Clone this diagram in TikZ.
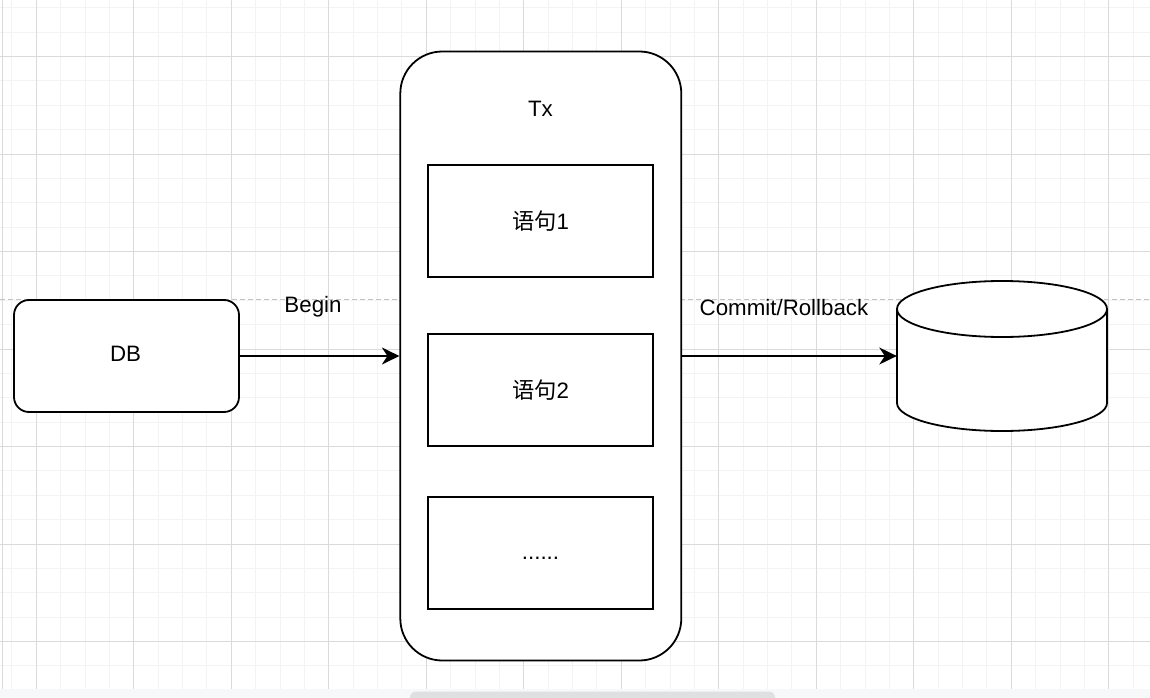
\documentclass[tikz,border=0pt]{standalone}
\usepackage{fontspec}
\setmainfont{Liberation Sans}
\newfontfamily\cjk{Noto Sans CJK SC}
\usetikzlibrary{arrows.meta}
\definecolor{minorgrid}{HTML}{F3F3F3}
\definecolor{majorgrid}{HTML}{DADADA}
\definecolor{bandcol}{HTML}{F7F8FA}
\definecolor{scrollcol}{HTML}{DFE0E2}
\definecolor{pagebreak}{HTML}{C4C4C4}
\tikzset{
  lbl/.style={font=\fontsize{22.3pt}{26pt}\selectfont, inner sep=0pt},
  roundbox/.style={draw=black, fill=white, line width=1.8pt, rounded corners=#1, inner sep=0pt},
  stmtbox/.style={draw=black, fill=white, line width=1.8pt, minimum width=225pt, minimum height=112pt, inner sep=0pt, font=\fontsize{22.3pt}{26pt}\selectfont},
  link/.style={line width=1.8pt, -{Stealth[length=17.5pt,width=17pt,inset=5.5pt]}},
  minorline/.style={draw=minorgrid, line width=1pt},
  majorline/.style={draw=majorgrid, line width=1pt},
}
\begin{document}
\begin{tikzpicture}[x=1pt,y=-1pt]
\useasboundingbox (0,0) rectangle (1150,698);
\begin{scope}
\clip (0,0) rectangle (1150,698);
\fill[white] (0,0) rectangle (1150,698);
% grid
\foreach \i in {0,...,46} \draw[minorline] ({11.9+24.375*\i},0) -- ({11.9+24.375*\i},689);
\foreach \i in {0,...,27} \draw[minorline] (0,{7.75+24.375*\i}) -- (1150,{7.75+24.375*\i});
\foreach \i in {0,...,11} \draw[majorline] ({36.3+97.5*\i},0) -- ({36.3+97.5*\i},689);
\foreach \i in {0,...,6} \draw[majorline] (0,{56.5+97.5*\i}) -- (1150,{56.5+97.5*\i});
\draw[majorline] (2.7,0) -- (2.7,689);
% bottom band and scrollbar
\fill[bandcol] (0,689) rectangle (1150,698);
\fill[scrollcol, rounded corners=6pt] (410,691.5) rectangle (775,712);
% page break line
\draw[pagebreak, line width=1pt, dash pattern=on 5pt off 3pt] (0,299) -- (1150,299);
\end{scope}

% DB box
\node[roundbox=15pt, minimum width=225pt, minimum height=112pt] (db) at (126.5,356) {};
\node[lbl, anchor=base] (dbtext) at (125.5,361.7) {DB};

% Tx container
\node[roundbox=42pt, minimum width=281pt, minimum height=609pt] (tx) at (540.8,356) {};
\node[lbl, anchor=base] (txtext) at (540.5,116.7) {Tx};

% statements
\node[stmtbox] (s1) at (540.5,221) {{\cjk 语句}1};
\node[stmtbox] (s2) at (540.5,390) {{\cjk 语句}2};
\node[stmtbox] (s3) at (540.5,553) {};
\node[lbl, anchor=base] (s3text) at (540.5,559.5) {......};

% cylinder
\node[inner sep=0pt, minimum width=210pt, minimum height=150pt] (cyl) at (1002,356) {};
\filldraw[fill=white, line width=1.8pt] (897,309) -- (897,403) arc[start angle=180, end angle=360, x radius=105pt, y radius=28pt] -- (1107,309);
\draw[fill=white, line width=1.8pt] (1002,309) ellipse [x radius=105pt, y radius=28pt];

% connectors
\draw[link] (db.east) -- (tx.west);
\draw[link] (tx.east) -- (cyl.west);
\node[lbl, anchor=base] (begintext) at (313,312.3) {Begin};
\node[lbl, anchor=base] (committext) at (784,315) {Commit/Rollback};
\end{tikzpicture}
\end{document}
